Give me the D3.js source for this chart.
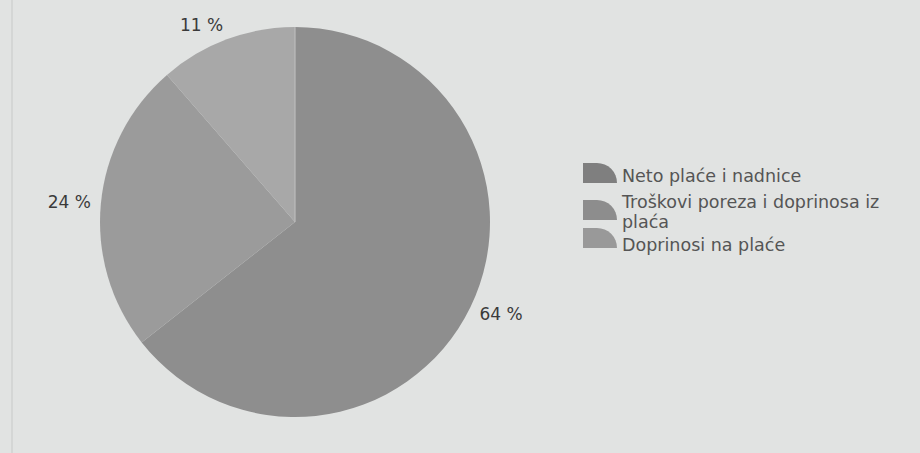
<!DOCTYPE html>
<html>
<head>
<meta charset="utf-8">
<script src="https://cdn.jsdelivr.net/npm/d3@7"></script>
<style>
  body { margin: 0; background: #e1e3e2; }
  svg { display: block; }
</style>
</head>
<body>
<div id="chart-area"></div>
<script>
// pie data
var categories = ['Neto plaće i nadnice', 'Troškovi poreza i doprinosa iz plaća', 'Doprinosi na plaće'];
var legendLines = [['Neto plaće i nadnice'], ['Troškovi poreza i doprinosa iz', 'plaća'], ['Doprinosi na plaće']];
var values = [64.4, 24.2, 11.4];
var sliceColors = ['#8e8e8e', '#9b9b9b', '#a8a8a8'];
var swatchColors = ['#7f7f7f', '#8d8d8d', '#999999'];

var width = 920;
var height = 453;
var cx = 295, cy = 222, radius = 195;

var svg = d3.select('#chart-area')
  .append('svg')
    .attr('width', width)
    .attr('height', height);

svg.append('rect')
  .attr('width', width)
  .attr('height', height)
  .attr('fill', '#e1e3e2');

// faint scan line on the left
svg.append('line')
  .attr('x1', 12).attr('x2', 12)
  .attr('y1', 0).attr('y2', height)
  .attr('stroke', '#d4d6d5')
  .attr('stroke-width', 2);

var pie = d3.pie().sort(null).value(d => d);
var arcs = pie(values);

var arc = d3.arc().innerRadius(0).outerRadius(radius);

var graph = svg.append('g')
  .attr('transform', `translate(${cx}, ${cy})`);

graph.selectAll('path')
  .data(arcs)
  .enter()
  .append('path')
    .attr('d', arc)
    .attr('fill', (d, i) => sliceColors[i]);

// light edge between the last and first slice
graph.append('line')
  .attr('x1', 0).attr('y1', 0)
  .attr('x2', 0).attr('y2', -radius)
  .attr('stroke', '#bdbdbd')
  .attr('stroke-width', 1.2);

// percent labels outside the pie, anchored by side
var labelArc = d3.arc().innerRadius(205).outerRadius(205);

graph.selectAll('text.pct')
  .data(arcs)
  .enter()
  .append('text')
    .attr('class', 'pct')
    .attr('transform', d => `translate(${labelArc.centroid(d)})`)
    .attr('text-anchor', function (d) {
      var mid = (d.startAngle + d.endAngle) / 2;
      return Math.sin(mid) < 0 ? 'end' : 'start';
    })
    .attr('dy', function (d) {
      var mid = (d.startAngle + d.endAngle) / 2;
      return (0.35 - 0.3 * Math.cos(mid)) + 'em';
    })
    .attr('font-family', 'DejaVu Sans, sans-serif')
    .attr('font-size', '17px')
    .attr('fill', '#3a3a3a')
    .text(d => Math.round(d.data) + ' %');

// legend
var swatchTop = [163, 200, 228];
var textBase = [[182], [208, 228], [251]];

var legend = svg.append('g');

categories.forEach(function (cat, i) {
  legend.append('path')
    .attr('d', 'M0,0 H14 A20,20 0 0 1 34,20 H0 Z')
    .attr('transform', `translate(583, ${swatchTop[i]})`)
    .attr('fill', swatchColors[i]);

  legend.selectAll('text.l' + i)
    .data(legendLines[i])
    .enter()
    .append('text')
      .attr('class', 'l' + i)
      .attr('x', 622)
      .attr('y', (d, j) => textBase[i][j])
      .attr('font-family', 'DejaVu Sans, sans-serif')
      .attr('font-size', '17.5px')
      .attr('fill', '#555')
      .text(d => d);
});
</script>
</body>
</html>
